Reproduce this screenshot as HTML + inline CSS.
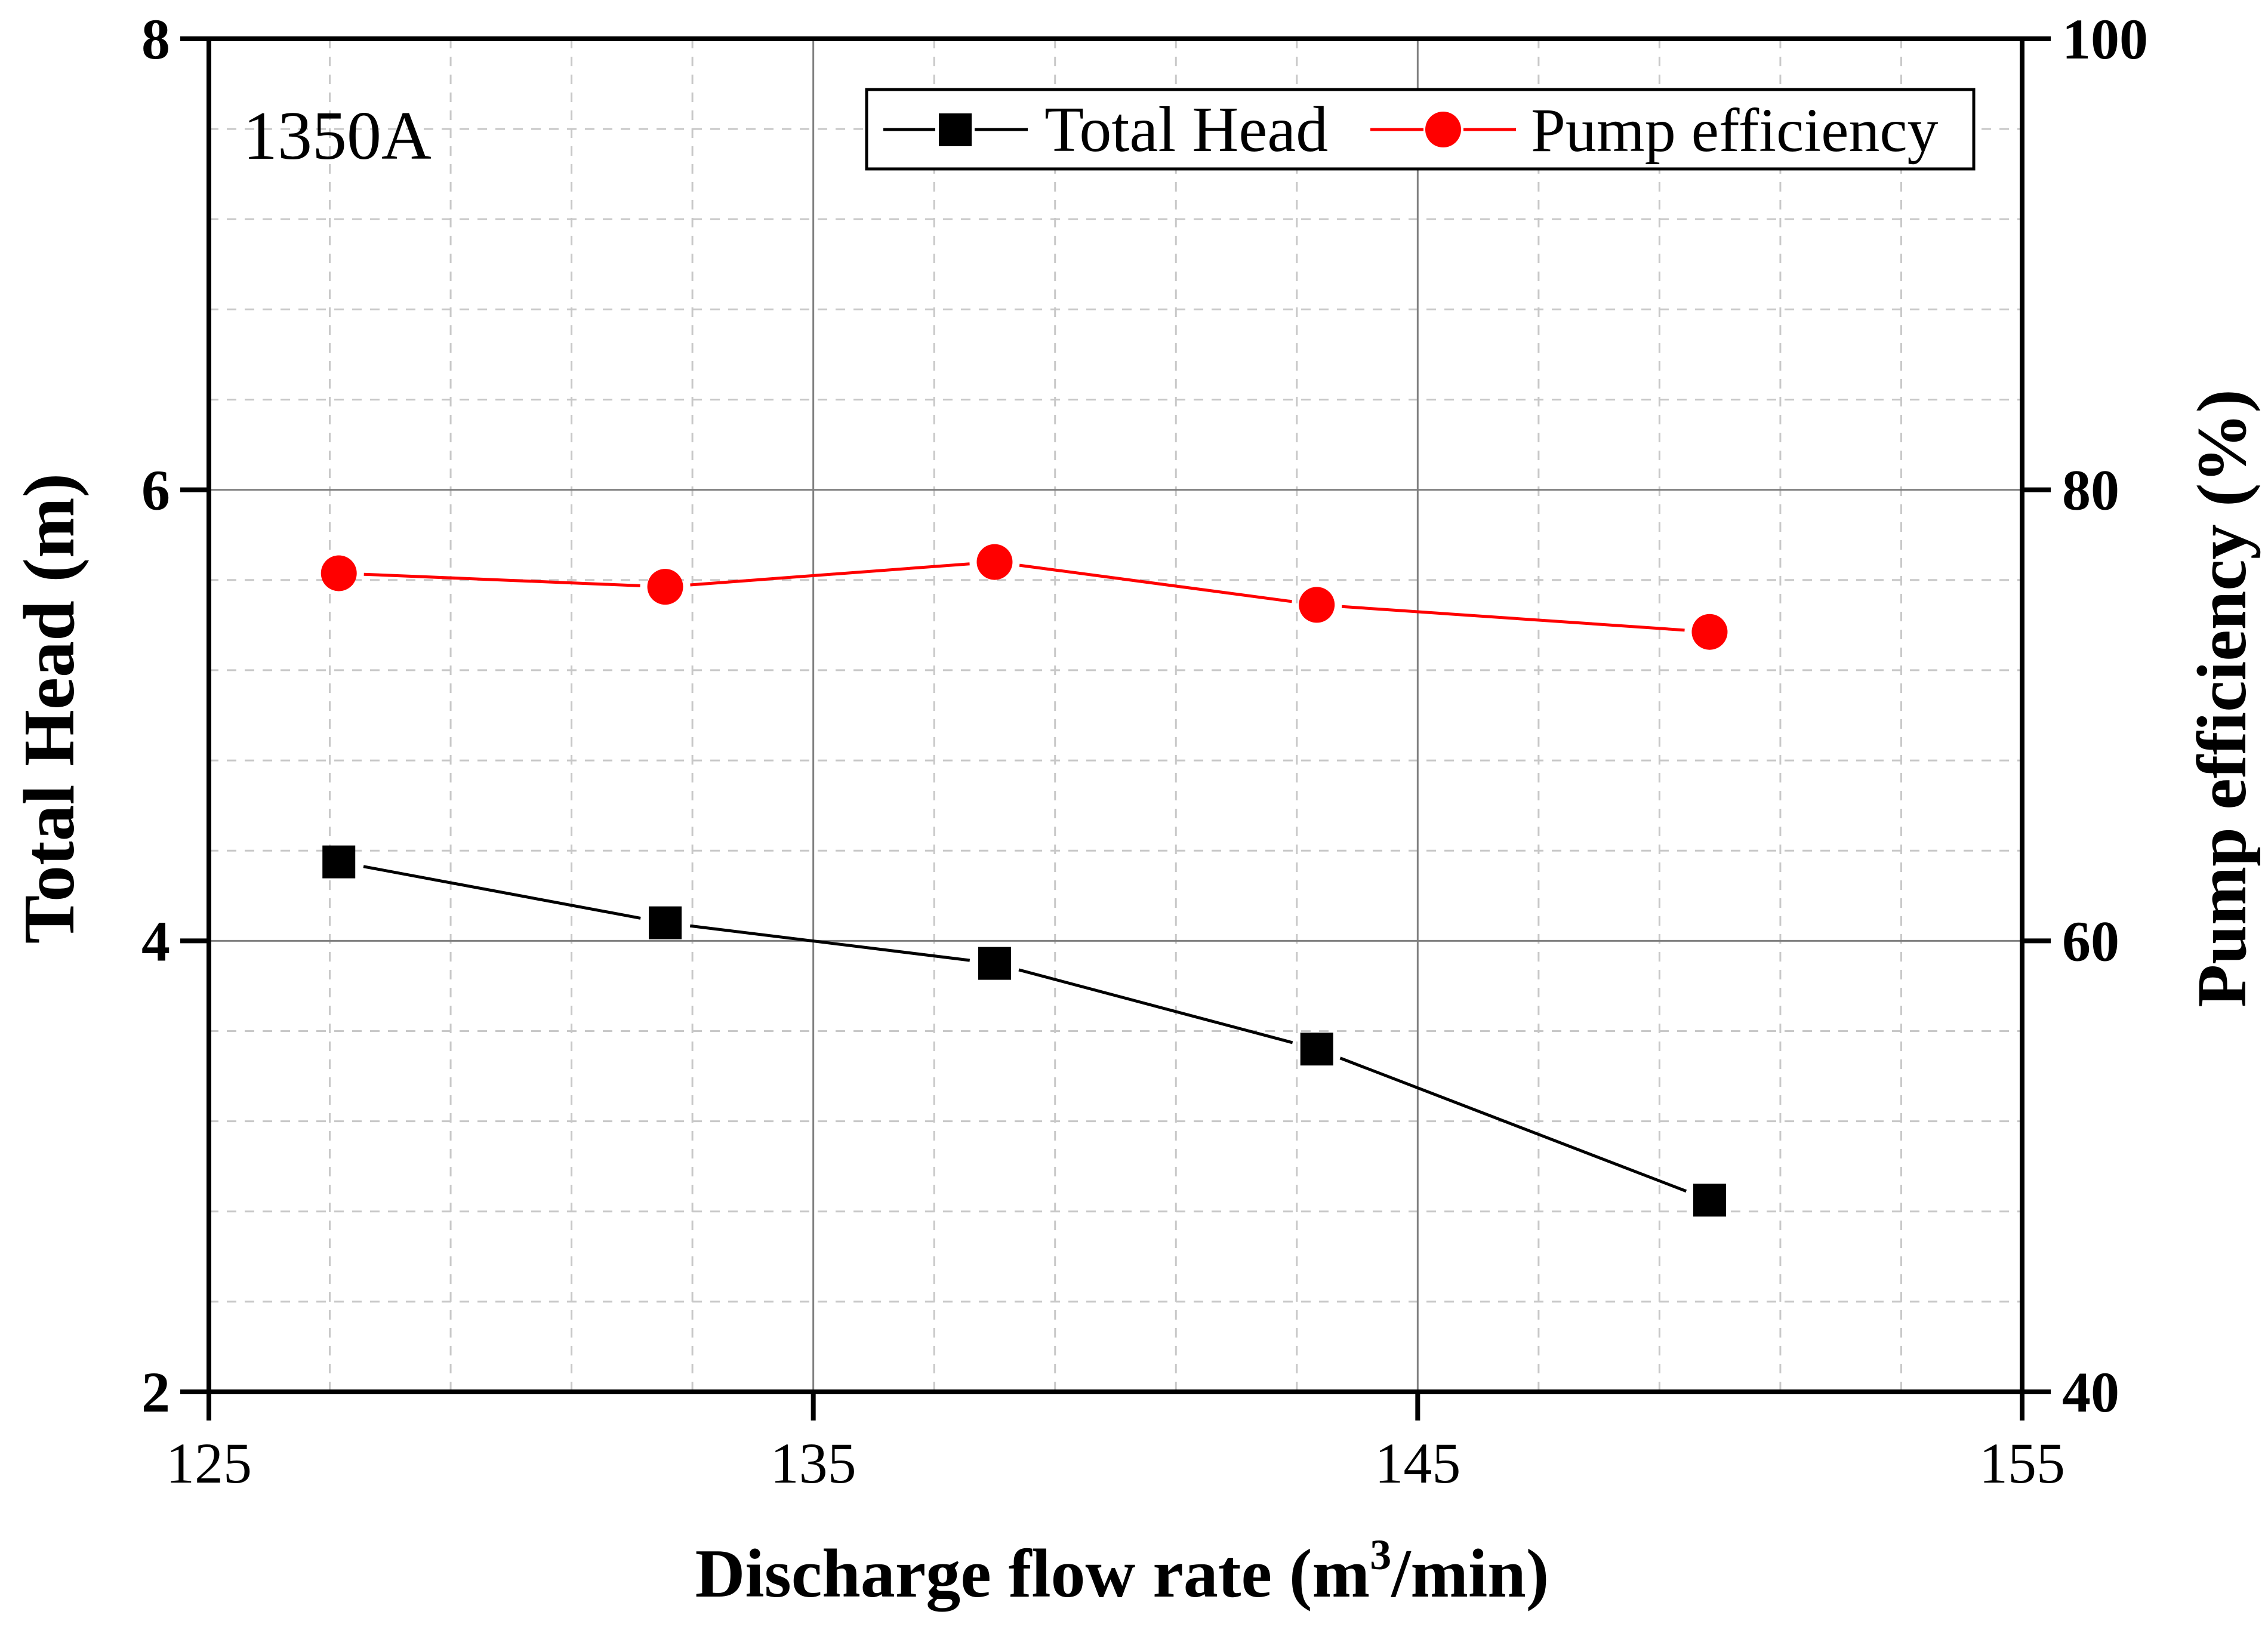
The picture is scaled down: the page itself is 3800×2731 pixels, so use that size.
<!DOCTYPE html>
<html><head><meta charset="utf-8"><style>
html,body{margin:0;padding:0;background:#fff}
svg{display:block}
text{font-family:"Liberation Serif",serif}
</style></head><body>
<svg id="chart" width="3800" height="2731" viewBox="0 0 3800 2731" xmlns="http://www.w3.org/2000/svg">
<g id="grid"></g>
<g id="series"></g>
<g id="axes"></g>
<text x="407" y="266" font-size="116">1350A</text>
<g>
<rect x="1452" y="150" width="1855" height="133" fill="#fff" stroke="#000" stroke-width="5"/>
<line x1="1480" y1="217" x2="1567" y2="217" stroke="#000" stroke-width="5"/>
<line x1="1633" y1="217" x2="1722" y2="217" stroke="#000" stroke-width="5"/>
<rect x="1573" y="190" width="55" height="55" fill="#000"/>
<text x="1750" y="253" font-size="108">Total Head</text>
<line x1="2296" y1="217" x2="2385" y2="217" stroke="#f00" stroke-width="5"/>
<line x1="2452" y1="217" x2="2540" y2="217" stroke="#f00" stroke-width="5"/>
<circle cx="2418" cy="217" r="30" fill="#f00"/>
<text x="2565" y="253" font-size="104">Pump efficiency</text>
</g>
<text x="1880" y="2675" font-size="116" font-weight="bold" text-anchor="middle">Discharge flow rate (m<tspan font-size="72" dy="-46">3</tspan><tspan dy="46">/min)</tspan></text>
<text transform="translate(123,1187) rotate(-90)" font-size="122" font-weight="bold" text-anchor="middle">Total Head (m)</text>
<text transform="translate(3762,1170) rotate(-90)" font-size="118" font-weight="bold" text-anchor="middle">Pump efficiency (%)</text>
</svg>
<script>
const flowRates = [127.15, 132.55, 138.0, 143.33, 149.83];
const totalHead = [4.35, 4.08, 3.90, 3.52, 2.85];
const pumpEfficiency = [76.3, 75.7, 76.8, 74.9, 73.7];
const xTicks = [125, 135, 145, 155];
const yLeftTicks = [2, 4, 6, 8];
const yRightTicks = [40, 60, 80, 100];

const L=350,R=3388,T=65,B=2332;
const NS="http://www.w3.org/2000/svg";
const X=v=>L+(v-125)/30*(R-L);
const YL=v=>B-(v-2)/6*(B-T);
const YR=v=>B-(v-40)/60*(B-T);
function mk(parent,tag,attrs){const e=document.createElementNS(NS,tag);for(const k in attrs)e.setAttribute(k,attrs[k]);document.getElementById(parent).appendChild(e);return e;}

for(let v=127;v<155;v+=2){if(v===135||v===145)continue;
 const e=mk('grid','line',{x1:X(v),x2:X(v),y1:T,y2:B,stroke:'#c8c8c8','stroke-width':3,'stroke-dasharray':'16 14'});
 
 }
for(let i=1;i<15;i++){if(i%5===0)continue;const v=2+i*0.4;
 const e=mk('grid','line',{x1:L,x2:R,y1:YL(v),y2:YL(v),stroke:'#c8c8c8','stroke-width':3,'stroke-dasharray':'16 14'});
 
 }
[135,145].forEach(v=>{const e=mk('grid','line',{x1:X(v),x2:X(v),y1:T,y2:B,stroke:'#808080','stroke-width':3});
 
 });
[4,6].forEach(v=>{const e=mk('grid','line',{x1:L,x2:R,y1:YL(v),y2:YL(v),stroke:'#808080','stroke-width':3});
 
 });

function series(vals,yf,color,name,gap){
 for(let i=0;i<vals.length-1;i++){
  const x1=X(flowRates[i]),y1=yf(vals[i]),x2=X(flowRates[i+1]),y2=yf(vals[i+1]);
  const d=Math.hypot(x2-x1,y2-y1),ux=(x2-x1)/d,uy=(y2-y1)/d;
  const e=mk('series','line',{x1:x1+ux*gap,y1:y1+uy*gap,x2:x2-ux*gap,y2:y2-uy*gap,stroke:color,'stroke-width':5});
  
  
 }
 vals.forEach((v,i)=>{let e;
  if(name==='total-head') e=mk('series','rect',{x:X(flowRates[i])-27.5,y:yf(v)-27.5,width:55,height:55,fill:color});
  else e=mk('series','circle',{cx:X(flowRates[i]),cy:yf(v),r:30,fill:color});
  
  });
}
series(totalHead,YL,'#000','total-head',42);
series(pumpEfficiency,YR,'#f00','pump-efficiency',42);

const fr=mk('axes','rect',{x:L,y:T,width:R-L,height:B-T,fill:'none',stroke:'#000','stroke-width':8});


xTicks.forEach(v=>{
 const t=mk('axes','line',{x1:X(v),x2:X(v),y1:B,y2:B+48,stroke:'#000','stroke-width':8});
 
 
 const l=mk('axes','text',{x:X(v),y:2484,'font-size':96,'text-anchor':'middle'});l.textContent=v;
 
 });
yLeftTicks.forEach(v=>{
 const t=mk('axes','line',{x1:L-48,x2:L,y1:YL(v),y2:YL(v),stroke:'#000','stroke-width':8});
 
 
 const l=mk('axes','text',{x:285,y:YL(v)+33,'font-size':96,'font-weight':'bold','text-anchor':'end'});l.textContent=v;
 
 });
yRightTicks.forEach(v=>{
 const t=mk('axes','line',{x1:R,x2:R+48,y1:YR(v),y2:YR(v),stroke:'#000','stroke-width':8});
 
 
 const l=mk('axes','text',{x:3455,y:YR(v)+33,'font-size':96,'font-weight':'bold','text-anchor':'start'});l.textContent=v;
 
 });
</script>
</body></html>
